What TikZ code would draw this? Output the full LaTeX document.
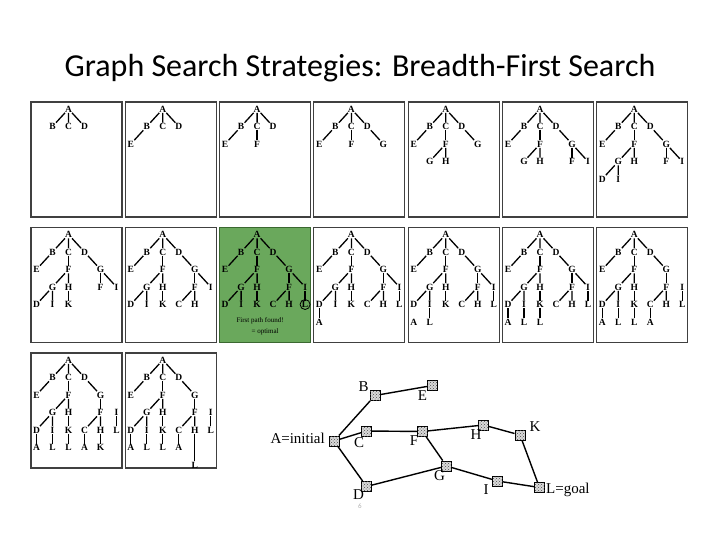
\documentclass[tikz,border=0pt]{standalone}
\usepackage{fontspec}
\setmainfont{Carlito}
\newfontfamily\treefont{Liberation Serif}
\usepackage{tikz}
\usetikzlibrary{calc,patterns}
\usepackage{xcolor}

\definecolor{foundgreen}{RGB}{106,168,92}
\definecolor{founddark}{RGB}{58,104,48}

\tikzset{
  frame/.style={draw=black!75, line width=1.1pt, fill=white},
  foundframe/.style={draw=founddark, line width=1.1pt, fill=foundgreen},
  tlabel/.style={font=\treefont\fontsize{9.5}{10}\selectfont\bfseries, inner sep=0.5pt},
  tedge/.style={line width=1.3pt},
  gnode/.style={draw, line width=0.9pt, fill=gray!30, minimum size=10pt, inner sep=0pt,
    postaction={pattern=crosshatch dots, pattern color=black!70}},
  glabel/.style={font=\treefont\fontsize{15}{16}\selectfont, inner sep=0pt},
  gedge/.style={line width=1.4pt}
}

% one node of a search tree: name, column, level, letter
\newcommand{\tnode}[4]{\node[tlabel] (#1) at ({5.5+16*#2},{7+17.5*#3}) {#4};}

% search tree after step #1
\newcommand{\bfstree}[1]{%
  \tnode{A}{2}{0}{A}
  \tnode{AB}{1}{1}{B} \tnode{AC}{2}{1}{C} \tnode{AD}{3}{1}{D}
  \draw[tedge] (A) -- (AB) (A) -- (AC) (A) -- (AD);
  \ifnum#1>1 \tnode{ABE}{0}{2}{E} \draw[tedge] (AB) -- (ABE); \fi
  \ifnum#1>2 \tnode{ACF}{2}{2}{F} \draw[tedge] (AC) -- (ACF); \fi
  \ifnum#1>3 \tnode{ADG}{4}{2}{G} \draw[tedge] (AD) -- (ADG); \fi
  \ifnum#1>4 \tnode{ACFG}{1}{3}{G} \tnode{ACFH}{2}{3}{H}
    \draw[tedge] (ACF) -- (ACFG) (ACF) -- (ACFH); \fi
  \ifnum#1>5 \tnode{ADGF}{4}{3}{F} \tnode{ADGI}{5}{3}{I}
    \draw[tedge] (ADG) -- (ADGF); \fi
  \ifnum#1>5 \ifnum#1<14 \draw[tedge] (ADG) -- (ADGI); \fi\fi
  \ifnum#1>6 \tnode{ACFGD}{0}{4}{D} \tnode{ACFGI}{1}{4}{I}
    \draw[tedge] (ACFG) -- (ACFGD) (ACFG) -- (ACFGI); \fi
  \ifnum#1>7 \tnode{ACFHK}{2}{4}{K} \draw[tedge] (ACFH) -- (ACFHK); \fi
  \ifnum#1>8 \tnode{ADGFC}{3}{4}{C} \tnode{ADGFH}{4}{4}{H}
    \draw[tedge] (ADGF) -- (ADGFC) (ADGF) -- (ADGFH); \fi
  \ifnum#1>9 \tnode{ADGIL}{5}{4}{L} \draw[tedge] (ADGI) -- (ADGIL); \fi
  \ifnum#1>10 \tnode{ACFGDA}{0}{5}{A} \fi
  \ifnum#1>10 \ifnum#1=12 \else \draw[tedge] (ACFGD) -- (ACFGDA); \fi\fi
  \ifnum#1>11 \tnode{ACFGIL}{1}{5}{L} \draw[tedge] (ACFGI) -- (ACFGIL); \fi
  \ifnum#1>12 \tnode{ACFHKL}{2}{5}{L} \draw[tedge] (ACFHK) -- (ACFHKL); \fi
  \ifnum#1>13 \tnode{ADGFCA}{3}{5}{A} \draw[tedge] (ADGFC) -- (ADGFCA); \fi
  \ifnum#1=15 \tnode{ADGFHK}{4}{5}{K} \draw[tedge] (ADGFH) -- (ADGFHK); \fi
  \ifnum#1=16 \tnode{ADGFHL}{4}{6}{L} \draw[tedge] (ADGFH) -- (ADGFHL); \fi
}

\begin{document}
\begin{tikzpicture}[x=1pt, y=-1pt]
  \fill[white] (0,0) rectangle (720,540);
  \useasboundingbox (0,0) rectangle (720,540);

  % Title
  \node[font=\fontsize{32}{38}\selectfont] (title) at (360,68)
    {Graph Search Strategies: Breadth-First Search};

  % Sixteen steps of the search
  \foreach \s in {1,...,16}{
    \pgfmathtruncatemacro{\col}{mod(\s-1,7)}
    \pgfmathtruncatemacro{\row}{(\s-1)/7}
    \begin{scope}[shift={({31+94.3*\col},{102+125.5*\row})}, name prefix=f\s-]
      \ifnum\s=10
        \draw[foundframe] (0,0) rectangle (91,115);
      \else
        \draw[frame] (0,0) rectangle (91,115);
      \fi
      \bfstree{\s}
      \ifnum\s=10
        \draw[line width=0.8pt] (ADGIL) circle (5);
        \node[tlabel, font=\treefont\fontsize{7}{8}\selectfont] (found) at (40.5,93.5) {First path found!};
        \node[tlabel, font=\treefont\fontsize{7}{8}\selectfont] (optimal) at (45.5,104.5) {= optimal};
      \fi
    \end{scope}
  }

  % The graph
  \node[gnode] (A) at (334,441) {};
  \node[gnode] (B) at (375,395.5) {};
  \node[gnode] (E) at (432.5,385.5) {};
  \node[gnode] (C) at (366.5,431) {};
  \node[gnode] (F) at (422.5,431.5) {};
  \node[gnode] (H) at (483.5,425) {};
  \node[gnode] (K) at (520,435) {};
  \node[gnode] (D) at (366.5,486.5) {};
  \node[gnode] (G) at (446.5,466) {};
  \node[gnode] (I) at (497.5,481) {};
  \node[gnode] (L) at (539.5,487.5) {};

  \draw[gedge] (A) -- (B) (A) -- (C) (A) -- (D);
  \draw[gedge] (B) -- (E) (C) -- (F) (F) -- (H) (H) -- (K) (K) -- (L);
  \draw[gedge] (F) -- (G) (D) -- (G) (G) -- (I) (I) -- (L);

  \node[glabel, anchor=base east] (Alab) at (325,443) {A=initial};
  \node[glabel] (Blab) at (363.5,387) {B};
  \node[glabel] (Elab) at (422.5,396) {E};
  \node[glabel] (Clab) at (359,443) {C};
  \node[glabel] (Flab) at (414,441) {F};
  \node[glabel] (Dlab) at (358.5,495) {D};
  \node[glabel] (Glab) at (439.5,476) {G};
  \node[glabel] (Hlab) at (476,435) {H};
  \node[glabel] (Klab) at (535,427) {K};
  \node[glabel] (Ilab) at (486,490) {I};
  \node[glabel, anchor=base west] (Llab) at (546,493) {L=goal};

  % Slide number
  \node[font=\fontsize{7}{8}\selectfont, text=gray!60] (slidenum) at (360,506) {6};
\end{tikzpicture}
\end{document}
